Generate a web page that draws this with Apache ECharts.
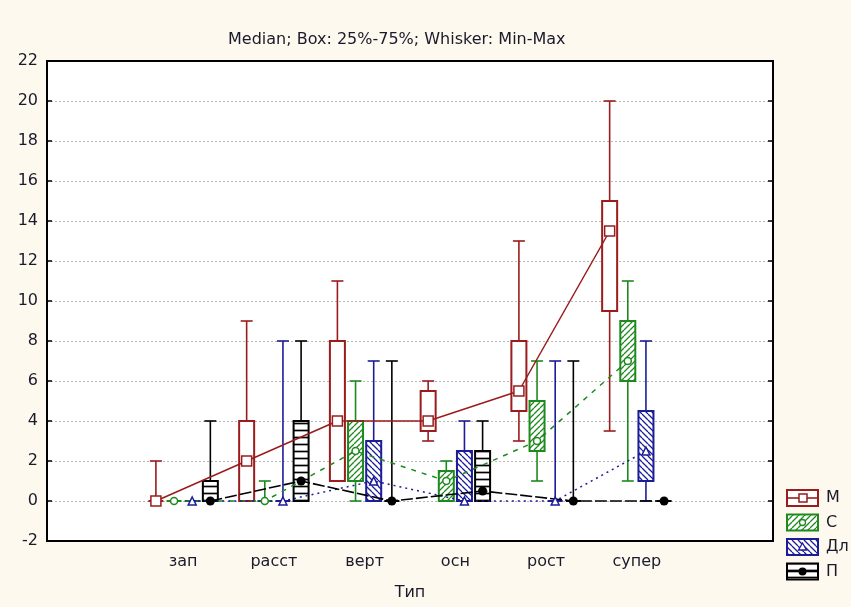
<!DOCTYPE html>
<html><head><meta charset="utf-8">
<script src="https://cdn.jsdelivr.net/npm/echarts@6/dist/echarts.min.js"></script>
<style>html,body{margin:0;padding:0;background:#fdf9ef;}#c{width:851px;height:607px;}</style>
</head><body><div id="c"></div>
<script>
// ---- data ----
const categories = ['зап', 'расст', 'верт', 'осн', 'рост', 'супер'];
const yTicks = [-2, 0, 2, 4, 6, 8, 10, 12, 14, 16, 18, 20, 22];
const seriesNames = ['М', 'С', 'Дл', 'П'];

const M_min = [0, 0, 1, 3, 3, 3.5];
const M_q1  = [0, 0, 1, 3.5, 4.5, 9.5];
const M_med = [0, 2, 4, 4, 5.5, 13.5];
const M_q3  = [0, 4, 8, 5.5, 8, 15];
const M_max = [2, 9, 11, 6, 13, 20];

const C_min = [0, 0, 0, 0, 1, 1];
const C_q1  = [0, 0, 1, 0, 2.5, 6];
const C_med = [0, 0, 2.5, 1, 3, 7];
const C_q3  = [0, 0, 4, 1.5, 5, 9];
const C_max = [0, 1, 6, 2, 7, 11];

const D_min = [0, 0, 0, 0, 0, 0];
const D_q1  = [0, 0, 0, 0, 0, 1];
const D_med = [0, 0, 1, 0, 0, 2.5];
const D_q3  = [0, 0, 3, 2.5, 0, 4.5];
const D_max = [0, 8, 7, 4, 7, 8];

const P_min = [0, 0, 0, 0, 0, 0];
const P_q1  = [0, 0, 0, 0, 0, 0];
const P_med = [0, 1, 0, 0.5, 0, 0];
const P_q3  = [1, 4, 0, 2.5, 0, 0];
const P_max = [4, 8, 7, 4, 7, 0];

// ---- styling ----
const RED = '#9a1c1c', GREEN = '#1e8a1e', BLUE = '#1c1c98', BLACK = '#000000';
const FONT = 'DejaVu Sans';

function hatch(color, dir, size, lw) {
  const c = document.createElement('canvas');
  c.width = size; c.height = size;
  const g = c.getContext('2d');
  g.fillStyle = '#fff'; g.fillRect(0, 0, size, size);
  g.strokeStyle = color; g.lineWidth = lw;
  g.beginPath();
  if (dir === '/') {
    [-size, 0, size].forEach(k => { g.moveTo(k, size); g.lineTo(k + size, 0); });
  } else if (dir === '\\') {
    [-size, 0, size].forEach(k => { g.moveTo(k, 0); g.lineTo(k + size, size); });
  } else {
    g.moveTo(0, size / 2); g.lineTo(size, size / 2);
  }
  g.stroke();
  return { image: c, repeat: 'repeat' };
}
const fills = ['#ffffff', hatch(GREEN, '/', 6, 1.3), hatch(BLUE, '\\', 6, 1.3), hatch(BLACK, '-', 7, 1.7)];
const colors = [RED, GREEN, BLUE, BLACK];
const offsets = [-0.3, -0.1, 0.1, 0.3];
const groups = [
  [M_min, M_q1, M_med, M_q3, M_max],
  [C_min, C_q1, C_med, C_q3, C_max],
  [D_min, D_q1, D_med, D_q3, D_max],
  [P_min, P_q1, P_med, P_q3, P_max]
];

function boxRenderer(gi) {
  const col = colors[gi], fill = fills[gi], off = offsets[gi];
  return function (params, api) {
    const x = api.value(0) + off;
    const pMin = api.coord([x, api.value(1)]);
    const pQ1 = api.coord([x, api.value(2)]);
    const pQ3 = api.coord([x, api.value(4)]);
    const pMax = api.coord([x, api.value(5)]);
    const px = pMin[0];
    const bw = 15, cw = 6;
    const ls = { stroke: col, lineWidth: 1.6 };
    return {
      type: 'group',
      children: [
        { type: 'line', shape: { x1: px, y1: pQ3[1], x2: px, y2: pMax[1] }, style: ls },
        { type: 'line', shape: { x1: px - cw, y1: pMax[1], x2: px + cw, y2: pMax[1] }, style: ls },
        { type: 'line', shape: { x1: px, y1: pQ1[1], x2: px, y2: pMin[1] }, style: ls },
        { type: 'line', shape: { x1: px - cw, y1: pMin[1], x2: px + cw, y2: pMin[1] }, style: ls },
        { type: 'rect', shape: { x: px - bw / 2, y: pQ3[1], width: bw, height: pQ1[1] - pQ3[1] },
          style: { fill: fill, stroke: col, lineWidth: 2 } }
      ]
    };
  };
}

const series = [];
groups.forEach((g, gi) => {
  series.push({
    type: 'custom', name: seriesNames[gi], xAxisIndex: 1, yAxisIndex: 0, z: 2,
    renderItem: boxRenderer(gi),
    data: categories.map((c, i) => [i + 1, g[0][i], g[1][i], g[2][i], g[3][i], g[4][i]])
  });
});
const lineTypes = ['solid', [5, 6], [2, 4], [12, 3]];
const symbols = ['rect', 'circle', 'triangle', 'circle'];
const symSizes = [10, 7, 8, 9];
groups.forEach((g, gi) => {
  series.push({
    type: 'line', name: seriesNames[gi] + ' median', xAxisIndex: 1, yAxisIndex: 0, z: 5,
    data: categories.map((c, i) => [i + 1 + offsets[gi], g[2][i]]),
    symbol: symbols[gi], symbolSize: symSizes[gi], showAllSymbol: true,
    lineStyle: { color: colors[gi], width: gi === 3 ? 1.6 : 1.5, type: lineTypes[gi] },
    itemStyle: gi === 3 ? { color: BLACK } : { color: '#fff', borderColor: colors[gi], borderWidth: 1.5 },
    emphasis: { disabled: true }
  });
});

// legend via graphic
const legendChildren = [];
seriesNames.forEach((n, gi) => {
  const top = 490 + gi * 24.5;
  legendChildren.push({ type: 'rect', shape: { x: 787, y: top, width: 31, height: 16 },
    style: { fill: fills[gi], stroke: colors[gi], lineWidth: 2 } });
  if (gi === 0 || gi === 3) {
    legendChildren.push({ type: 'line', shape: { x1: 787, y1: top + 8, x2: 818, y2: top + 8 },
      style: { stroke: colors[gi], lineWidth: 1.6 } });
  }
  if (gi === 0) legendChildren.push({ type: 'rect', shape: { x: 799, y: top + 4, width: 8, height: 8 }, style: { fill: '#fff', stroke: RED, lineWidth: 1.5 } });
  if (gi === 1) legendChildren.push({ type: 'circle', shape: { cx: 802.5, cy: top + 8, r: 3 }, style: { fill: '#fff', stroke: GREEN, lineWidth: 1.3 } });
  if (gi === 2) legendChildren.push({ type: 'polygon', shape: { points: [[802.5, top + 4], [806.5, top + 11], [798.5, top + 11]] }, style: { fill: '#fff', stroke: BLUE, lineWidth: 1.3 } });
  if (gi === 3) legendChildren.push({ type: 'circle', shape: { cx: 802.5, cy: top + 8, r: 4 }, style: { fill: BLACK } });
  legendChildren.push({ type: 'text', x: 826, y: top + 8,
    style: { text: n, fill: '#1a1a2a', font: '16px "' + FONT + '"', textVerticalAlign: 'middle', verticalAlign: 'middle' } });
});

const axisCats = [''].concat(categories, ['']);
const chart = echarts.init(document.getElementById('c'), null, { renderer: 'canvas' });
chart.setOption({
  animation: false,
  backgroundColor: '#fdf9ef',
  textStyle: { fontFamily: FONT },
  title: {
    text: 'Median; Box: 25%-75%; Whisker: Min-Max', left: 223, top: 27,
    textStyle: { fontFamily: FONT, fontSize: 16, fontWeight: 'normal', color: '#1a1a2a' }
  },
  grid: { left: 47, right: 78, top: 61, bottom: 66, show: true, backgroundColor: '#ffffff', borderColor: '#000', borderWidth: 2 },
  xAxis: [
    {
      type: 'category', data: axisCats, position: 'bottom', boundaryGap: true,
      name: 'Тип', nameLocation: 'middle', nameGap: 44,
      nameTextStyle: { fontFamily: FONT, fontSize: 16, color: '#1a1a2a' },
      axisLine: { onZero: false, lineStyle: { color: '#000', width: 2 } },
      axisTick: { inside: true, alignWithLabel: true, length: 5, lineStyle: { color: '#000', width: 1.5 } },
      axisLabel: { fontFamily: FONT, fontSize: 16, color: '#1a1a2a', margin: 13, interval: 0 },
      splitLine: { show: false }
    },
    {
      type: 'value', min: -0.5, max: 7.5, show: false, position: 'bottom',
      axisLine: { onZero: false }, splitLine: { show: false }
    },
    {
      type: 'category', data: axisCats, position: 'top', boundaryGap: true,
      axisLine: { onZero: false, lineStyle: { color: '#000', width: 2 } },
      axisTick: { inside: true, alignWithLabel: true, length: 5, lineStyle: { color: '#000', width: 1.5 } },
      axisLabel: { show: false }, splitLine: { show: false }
    }
  ],
  yAxis: [
    {
      type: 'value', min: yTicks[0], max: yTicks[yTicks.length - 1], interval: 2, position: 'left',
      axisLine: { show: true, onZero: false, lineStyle: { color: '#000', width: 2 } },
      axisTick: { show: true, inside: true, length: 5, lineStyle: { color: '#000', width: 1.5 } },
      axisLabel: { fontFamily: FONT, fontSize: 16, color: '#1a1a2a', margin: 9 },
      splitLine: { show: true, lineStyle: { color: '#b8b8b8', width: 1, type: [2, 2] } }
    },
    {
      type: 'value', min: yTicks[0], max: yTicks[yTicks.length - 1], interval: 2, position: 'right',
      axisLine: { show: true, onZero: false, lineStyle: { color: '#000', width: 2 } },
      axisTick: { show: true, inside: true, length: 5, lineStyle: { color: '#000', width: 1.5 } },
      axisLabel: { show: false }, splitLine: { show: false }
    }
  ],
  graphic: [{ type: 'group', children: legendChildren, z: 100 }],
  series: series
});
</script>
</body></html>
